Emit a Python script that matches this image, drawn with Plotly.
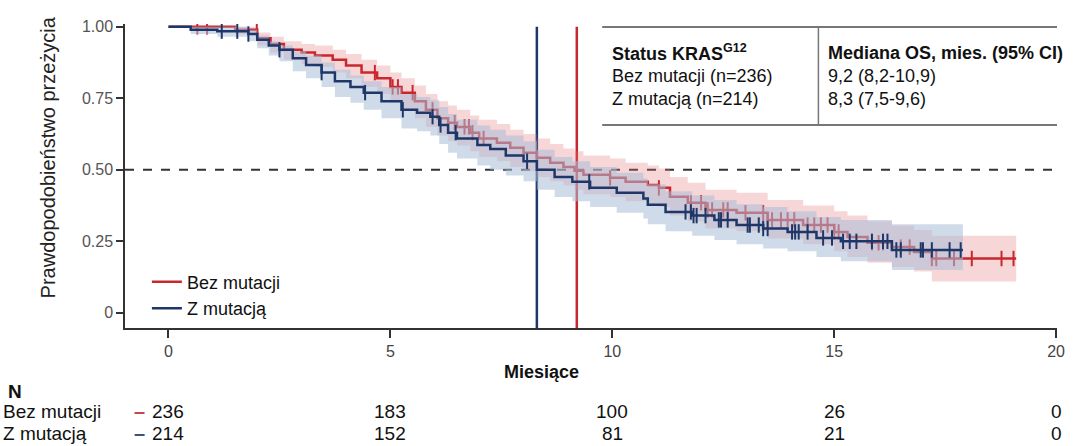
import plotly.graph_objects as go

# ---------------- data ----------------
# Bez mutacji (no mutation) – KM step points
red_t = [0, 1.5, 2.0, 2.3, 2.6, 3.0, 3.3, 3.7, 4.0, 4.35, 4.7, 5.0, 5.25, 5.55, 5.8, 6.06, 6.3, 6.5,
         6.8, 7.0, 7.4, 7.7, 8.0, 8.3, 8.6, 8.9, 9.15, 9.35, 9.95, 10.3, 10.8, 11.05, 11.3, 11.7, 12.1,
         12.8, 13.5, 14.3, 15.0, 15.3, 15.75, 16.3, 16.8, 17.2, 19.1]
red_s = [1.0, 0.99, 0.96, 0.94, 0.92, 0.91, 0.90, 0.885, 0.865, 0.84, 0.82, 0.79, 0.77, 0.74, 0.71, 0.68,
         0.665, 0.65, 0.63, 0.61, 0.595, 0.577, 0.56, 0.542, 0.525, 0.51, 0.497, 0.483, 0.472, 0.458,
         0.447, 0.437, 0.406, 0.385, 0.36, 0.35, 0.325, 0.307, 0.283, 0.265, 0.245, 0.23, 0.213, 0.19, 0.19]
red_lo = [1.0, 0.975, 0.935, 0.91, 0.885, 0.87, 0.86, 0.84, 0.82, 0.79, 0.765, 0.735, 0.71, 0.68, 0.65,
          0.62, 0.60, 0.585, 0.565, 0.545, 0.53, 0.51, 0.495, 0.475, 0.46, 0.445, 0.43, 0.415, 0.405,
          0.39, 0.38, 0.37, 0.34, 0.32, 0.295, 0.285, 0.26, 0.24, 0.215, 0.195, 0.175, 0.16, 0.145,
          0.11, 0.11]
red_hi = [1.0, 1.0, 0.98, 0.965, 0.95, 0.94, 0.935, 0.92, 0.905, 0.885, 0.865, 0.84, 0.82, 0.795, 0.765,
          0.74, 0.725, 0.71, 0.69, 0.675, 0.66, 0.64, 0.625, 0.61, 0.59, 0.575, 0.565, 0.55, 0.54,
          0.525, 0.515, 0.505, 0.475, 0.455, 0.43, 0.42, 0.395, 0.375, 0.355, 0.34, 0.32, 0.305, 0.29,
          0.27, 0.27]
red_cens = [0.65, 0.87, 1.99, 4.65, 5.05, 5.17, 5.5, 5.95, 6.45, 6.67, 6.77, 6.85, 7.1, 9.95, 11.05,
            11.77, 12.0, 12.15, 12.25, 12.5, 12.6, 13.0, 13.4, 13.5, 13.6, 13.8, 13.95, 14.1, 14.4,
            14.55, 14.7, 14.85, 15.0, 15.1, 15.85, 16.0, 16.1, 16.5, 16.7, 17.2, 17.3, 17.7, 18.1,
            18.77, 19.04]

# Z mutacją (with mutation) – KM step points
blue_t = [0, 0.5, 1.1, 1.8, 2.0, 2.26, 2.5, 2.8, 3.1, 3.45, 3.75, 4.1, 4.4, 4.8, 5.25, 5.6, 5.9, 6.1,
          6.3, 6.5, 6.96, 7.25, 7.6, 8.0, 8.3, 8.7, 9.1, 9.5, 10.1, 10.7, 10.8, 11.2, 11.8, 12.3, 12.8,
          13.4, 13.95, 14.6, 15.15, 16.3, 17.9]
blue_s = [1.0, 0.99, 0.985, 0.975, 0.955, 0.935, 0.92, 0.89, 0.867, 0.84, 0.81, 0.79, 0.77, 0.74, 0.71,
          0.70, 0.686, 0.657, 0.63, 0.61, 0.587, 0.573, 0.55, 0.53, 0.50, 0.475, 0.458, 0.437, 0.42,
          0.40, 0.378, 0.353, 0.34, 0.325, 0.307, 0.295, 0.283, 0.262, 0.25, 0.22, 0.22]
blue_lo = [1.0, 0.975, 0.965, 0.95, 0.925, 0.90, 0.88, 0.845, 0.82, 0.79, 0.755, 0.735, 0.71, 0.68, 0.645,
           0.635, 0.62, 0.59, 0.56, 0.54, 0.515, 0.50, 0.48, 0.46, 0.43, 0.405, 0.39, 0.37, 0.35, 0.33,
           0.31, 0.285, 0.27, 0.255, 0.24, 0.225, 0.215, 0.195, 0.18, 0.15, 0.15]
blue_hi = [1.0, 1.0, 1.0, 0.99, 0.97, 0.95, 0.935, 0.915, 0.90, 0.875, 0.85, 0.83, 0.81, 0.79, 0.765,
           0.755, 0.745, 0.72, 0.695, 0.675, 0.655, 0.64, 0.62, 0.60, 0.57, 0.545, 0.53, 0.51, 0.49,
           0.47, 0.45, 0.425, 0.41, 0.395, 0.38, 0.37, 0.355, 0.335, 0.325, 0.31, 0.31]
blue_cens = [1.2, 1.55, 1.8, 2.5, 3.45, 4.43, 5.28, 5.95, 6.13, 6.47, 8.08, 9.48, 11.65, 11.77, 11.83,
             11.9, 12.1, 12.4, 12.45, 12.6, 13.05, 13.1, 13.3, 13.4, 13.5, 14.05, 14.12, 14.2, 14.4,
             14.75, 14.95, 15.2, 15.35, 15.5, 15.85, 16.1, 16.2, 16.4, 16.5, 16.95, 17.0, 17.2, 17.6,
             17.85]

# median OS table
group_names = ["Bez mutacji", "Z mutacją"]
group_n = [236, 214]
median_os = [9.2, 8.3]
median_text = ["9,2 (8,2-10,9)", "8,3 (7,5-9,6)"]

# numbers at risk
risk_times = [0, 5, 10, 15, 20]
risk_bez = [236, 183, 100, 26, 0]
risk_z = [214, 152, 81, 21, 0]

# ---------------- styling ----------------
RED = "rgb(200,40,45)"
BLUE = "rgb(30,55,105)"
RED_BAND = "rgba(230,120,125,0.30)"
BLUE_BAND = "rgba(170,190,215,0.55)"
FONT = "Liberation Sans, Arial, sans-serif"
XR = [-0.98, 20.02]
YR = [-0.053, 1.01]


def step_val(ts, vs, t):
    v = vs[0]
    for ti, vi in zip(ts, vs):
        if ti <= t:
            v = vi
    return v


fig = go.Figure()


def add_group(ts, ss, lo, hi, cens, color, band, name):
    fig.add_trace(go.Scatter(x=ts, y=hi, mode="lines", line=dict(width=0, shape="hv"),
                             showlegend=False, hoverinfo="skip"))
    fig.add_trace(go.Scatter(x=ts, y=lo, mode="lines", line=dict(width=0, shape="hv"),
                             fill="tonexty", fillcolor=band, showlegend=False, hoverinfo="skip"))
    fig.add_trace(go.Scatter(x=ts, y=ss, mode="lines", line=dict(color=color, width=2.5, shape="hv"),
                             name=name, showlegend=True))
    fig.add_trace(go.Scatter(x=cens, y=[step_val(ts, ss, c) for c in cens], mode="markers",
                             marker=dict(symbol="line-ns-open", size=11, color=color,
                                         line=dict(color=color, width=2)),
                             showlegend=False, hoverinfo="skip"))


add_group(red_t, red_s, red_lo, red_hi, red_cens, RED, RED_BAND, group_names[0])
add_group(blue_t, blue_s, blue_lo, blue_hi, blue_cens, BLUE, BLUE_BAND, group_names[1])

shapes = [
    dict(type="line", xref="paper", yref="y", x0=0, x1=1, y0=0.5, y1=0.5,
         line=dict(color="#333", width=2, dash="dash"), layer="below"),
    dict(type="line", xref="x", yref="y", x0=median_os[1], x1=median_os[1], y0=YR[0], y1=1.0,
         line=dict(color=BLUE, width=2.5), layer="below"),
    dict(type="line", xref="x", yref="y", x0=median_os[0], x1=median_os[0], y0=YR[0], y1=1.0,
         line=dict(color=RED, width=2.5), layer="below"),
    # median table frame
    dict(type="line", xref="paper", yref="paper", x0=0.512, x1=1.0, y0=0.990, y1=0.990,
         line=dict(color="#777", width=2)),
    dict(type="line", xref="paper", yref="paper", x0=0.512, x1=1.0, y0=0.668, y1=0.668,
         line=dict(color="#777", width=2)),
    dict(type="line", xref="paper", yref="paper", x0=0.744, x1=0.744, y0=0.668, y1=0.990,
         line=dict(color="#777", width=1.5)),
]

ann = []
tf = dict(family=FONT, size=18, color="#111")
ann.append(dict(xref="paper", yref="paper", x=0.520, y=0.905, xanchor="left", yanchor="middle",
                text="<b>Status KRAS<sup>G12</sup></b>", showarrow=False, font=tf))
ann.append(dict(xref="paper", yref="paper", x=0.7525, y=0.905, xanchor="left", yanchor="middle",
                text="<b>Mediana OS, mies. (95% CI)</b>", showarrow=False, font=tf))
for i in range(2):
    yy = [0.829, 0.753][i]
    ann.append(dict(xref="paper", yref="paper", x=0.520, y=yy, xanchor="left", yanchor="middle",
                    text=f"{group_names[i]} (n={group_n[i]})", showarrow=False, font=tf))
    ann.append(dict(xref="paper", yref="paper", x=0.7525, y=yy, xanchor="left", yanchor="middle",
                    text=median_text[i], showarrow=False, font=tf))

# y-axis title
ann.append(dict(xref="paper", yref="paper", x=-0.083, y=0.56, xanchor="center", yanchor="middle",
                text="Prawdopodobieństwo przeżycia", textangle=-90, showarrow=False,
                font=dict(family=FONT, size=20, color="#222")))
# x-axis title
ann.append(dict(xref="paper", yref="paper", x=0.447, y=0, yshift=-44, xanchor="center",
                yanchor="middle", text="<b>Miesiące</b>", showarrow=False,
                font=dict(family=FONT, size=18, color="#111")))
# risk table
rf = dict(family=FONT, size=19, color="#111")
ann.append(dict(xref="paper", yref="paper", x=-0.128, y=0, yshift=-63, xanchor="left",
                yanchor="middle", text="<b>N</b>", showarrow=False, font=rf))
rows = [(group_names[0], risk_bez, "rgb(200,70,80)", -83), (group_names[1], risk_z, "rgb(60,80,130)", -105)]
for label, vals, col, ys in rows:
    ann.append(dict(xref="paper", yref="paper", x=-0.1334, y=0, yshift=ys, xanchor="left",
                    yanchor="middle", text=label, showarrow=False, font=rf))
    ann.append(dict(xref="paper", yref="paper", x=0.016, y=0, yshift=ys, xanchor="center",
                    yanchor="middle", text="<b>–</b>", showarrow=False,
                    font=dict(family=FONT, size=20, color=col)))
    for t, v in zip(risk_times, vals):
        ann.append(dict(xref="x", yref="paper", x=t, y=0, yshift=ys, xanchor="center",
                        yanchor="middle", text=str(v), showarrow=False, font=rf))

fig.update_layout(
    width=1077, height=446,
    margin=dict(l=125, r=15, t=24, b=118),
    paper_bgcolor="white", plot_bgcolor="white",
    font=dict(family=FONT, size=16, color="#333"),
    shapes=shapes, annotations=ann,
    legend=dict(x=0.0235, y=0.212, xanchor="left", yanchor="top", bgcolor="rgba(0,0,0,0)",
                font=dict(family=FONT, size=18, color="#111"), itemwidth=30,
                tracegroupgap=0, traceorder="normal"),
    xaxis=dict(range=XR, tickvals=risk_times, ticks="outside", ticklen=8, tickwidth=1.5,
               tickcolor="#333", showline=True, linecolor="#333", linewidth=1.5,
               showgrid=False, zeroline=False, tickfont=dict(size=16, color="#444")),
    yaxis=dict(range=YR, tickvals=[0, 0.25, 0.5, 0.75, 1.0],
               ticktext=["0", "0.25", "0.50", "0.75", "1.00"], ticks="outside", ticklen=7,
               tickwidth=1.5, tickcolor="#333", showline=True, linecolor="#333", linewidth=1.5,
               showgrid=False, zeroline=False, tickfont=dict(size=16, color="#555")),
)

fig.write_html("out.html", config={"displayModeBar": False},
               post_script="document.body.style.margin='0px';")
